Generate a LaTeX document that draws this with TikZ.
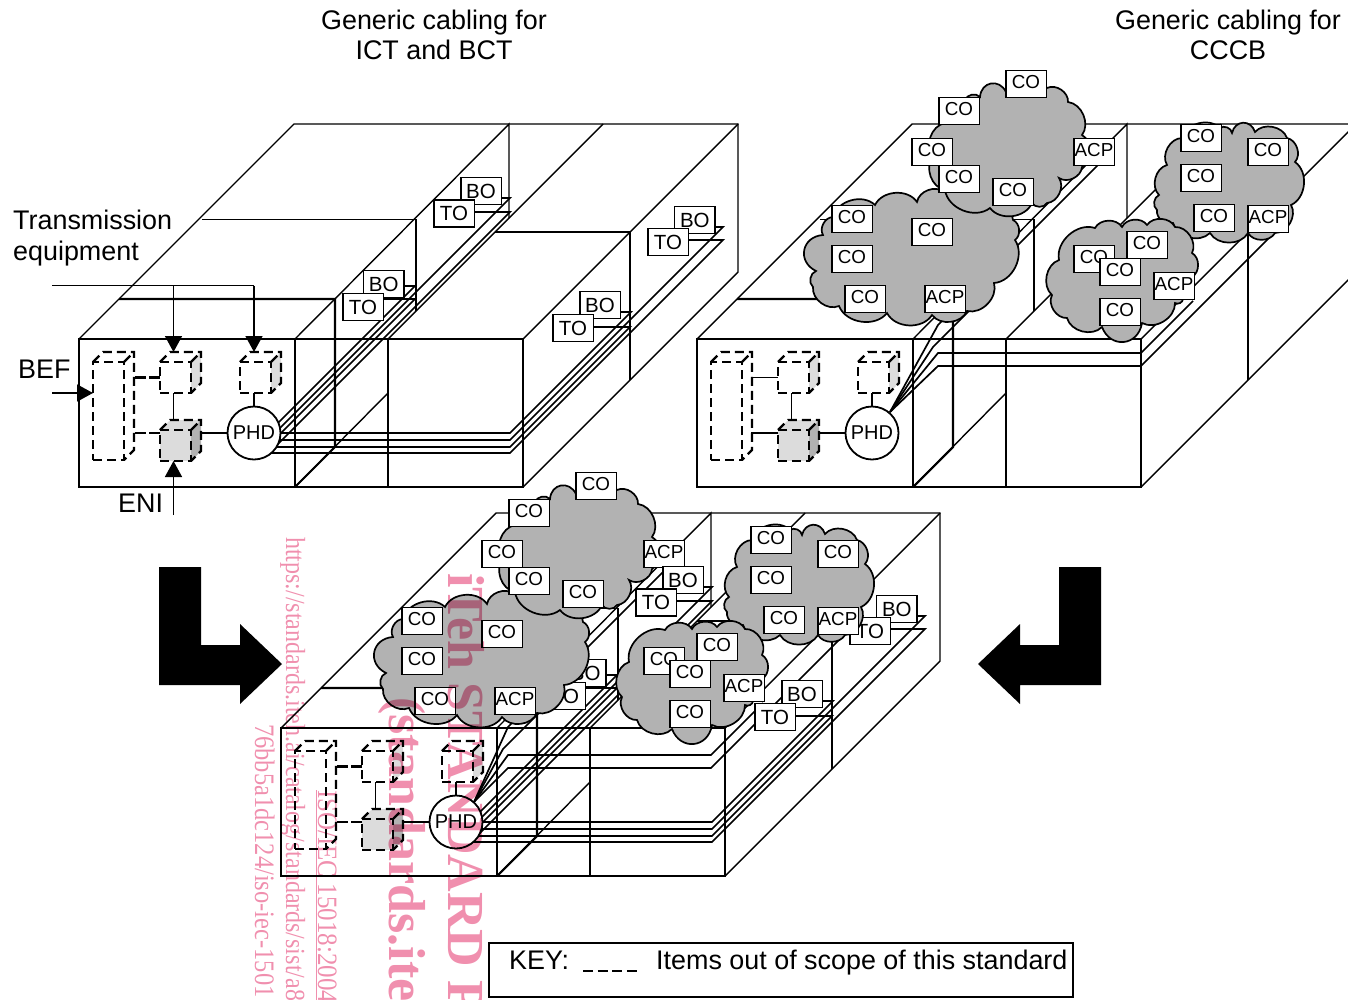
\documentclass[tikz,border=0pt]{standalone}
\usepackage{fontspec}
\usepackage{xcolor}
\usepackage{tikz}
\usetikzlibrary{arrows.meta,positioning,calc}
\setmainfont{Liberation Sans}
\newfontfamily\wmfont{Liberation Serif}
\definecolor{cloudgray}{HTML}{B2B2B2}
\definecolor{cubegray}{HTML}{DCDCDC}
\definecolor{wmpink}{HTML}{F08FAE}

\newcommand{\buildingwalls}{
    \draw[wall] (79,339) -- (294,124) -- (738,124) -- (738,272) -- (523,487);
    \draw[wall] (295,339) -- (509,124) -- (509,218);
    \draw[wall] (388,339) -- (603,124);
    \draw[wall] (523,339) -- (738,124);
    \draw[wall] (295,339) rectangle (523,487);
    \draw[wall] (388,339) -- (388,487);
    \draw[wall] (295,487) -- (388,393);
    \draw[wall] (202,219.4) -- (416,219.4) -- (416,311);
    \draw[wall] (495,232) -- (630,232) -- (630,380);
    \draw[wallthick] (119,299) -- (335,299) -- (335,447) -- (295,487);
    \draw[wallthick] (79,339) rectangle (295,487);
}
\newcommand{\ictcables}{
    \draw[cable] (254,433) -- (510,433) -- (631,312) -- (610,312);
    \draw[cable] (254,440) -- (510,440) -- (723,227) -- (700,227);
    \draw[cable] (254,447) -- (510,447) -- (630,327) -- (585,327);
    \draw[cable] (254,453) -- (510,453) -- (723,240) -- (680,240);
    \draw[cable] (262,439) -- (415,286) -- (400,286);
    \draw[cable] (268,446) -- (415,299) -- (375,299);
    \draw[cable] (265,443) -- (510,198) -- (495,198);
    \draw[cable] (270,452) -- (510,212) -- (465,212);
}
\newcommand{\cccbcables}[2]{
    \coordinate (fan) at (#1,#2);
    \draw[cable] (fan) -- (938,353) -- (1141,353) -- (1193,301);
    \draw[cable] (fan) -- (938,366) -- (1141,366) -- (1275,232);
    \draw[cable] (fan) -- (938,325) -- (1100,163);
    \draw[cable] (fan) -- (933,347) -- (975,305);
}
\newcommand{\pairslow}[1]{
    \node[pairbox] (#1bo1) at (383.7,284) {BO};
    \node[pairbox] (#1to1) at (363,307) {TO};
}
\newcommand{\pairsrest}[1]{
    \node[pairbox] (#1bo2) at (481,191) {BO};
    \node[pairbox] (#1to2) at (454,213.5) {TO};
    \node[pairbox] (#1bo3) at (694.8,220) {BO};
    \node[pairbox] (#1to3) at (668,242) {TO};
    \node[pairbox] (#1bo4) at (600,305) {BO};
    \node[pairbox] (#1to4) at (573,328) {TO};
}
\newcommand{\devcube}[7]{
    \fill[#6] (#2,#3) -- ++(10,-10) -- ++(#4,0) -- ++(-10,10) -- cycle;
    \fill[#7] (#2+#4,#3) -- ++(10,-10) -- ++(0,#5) -- ++(-10,10) -- cycle;
    \draw[dev] (#2,#3) -- ++(10,-10) -- ++(#4,0) -- ++(0,#5) -- ++(-10,10);
    \draw[dev] (#2+#4,#3) -- ++(10,-10);
    \node[dev,minimum width=#4,minimum height=#5,fill=#6] (#1) at (#2+#4/2,#3+#5/2) {};
}
\newcommand{\devices}[2]{
    \devcube{#1tall}{93}{362}{31}{98}{white}{white}
    \devcube{#1up}{160}{362}{31}{31}{white}{cubegray}
    \devcube{#1tx}{240}{362}{31}{31}{white}{cubegray}
    \devcube{#1gw}{160}{430}{31}{31}{cubegray}{cloudgray}
    \node[phd] (#1phd) at (254,433) {PHD};
    \draw[link,#2] (#1up.west) -- ++(-27,0);
    \draw[link,#2] (#1gw.west |- #1phd.west) -- ++(-27,0);
    \draw[link] ([xshift=-2pt]#1up.south) -- ([xshift=-2pt,yshift=10pt]#1gw.north);
    \draw[link] ([xshift=10pt]#1gw.east |- #1phd.west) -- (#1phd.west);
    \draw[link] (#1phd.north) -- ([xshift=-1.5pt]#1tx.south);
}
\newcommand{\cloudsback}[1]{
    \draw[cloud] (823,235) to[bmp] (833,217) to[bmp] (875,205) to[bmp] (917,202) to[bmp] (944,192) to[bmp] (1013,220) to[bmp] (1015,240) to[bmp] (994,283) to[bmp] (967,311) to[bmp] (932,315) to[bmp] (887,313) to[bmp] (839,306) to[bmp] (813,287) to[bmp] (816,271) to[bmpb] (823,235) -- cycle;
    \node[outlet] (#1c1) at (852,219) {CO};
    \node[outlet] (#1c2) at (932,232) {CO};
    \node[outlet] (#1c3) at (852,259) {CO};
    \node[outlet] (#1c4) at (865,299) {CO};
    \node[outlet] (#1a1) at (945,299) {ACP};
    \draw[cloud] (945,123) to[bmp] (965,100) to[bmp] (980,97) to[bmpb] (1006,92) to[bmp] (1047,88) to[bmp] (1068,102) to[bmp] (1082,135) to[bmp] (1082,167) to[bmp] (1059,178) to[bmp] (1047,203) to[bmp] (1032,203) to[bmp] (990,208) to[bmp] (945,190) to[bmp] (933,157) to[bmp] (945,123) -- cycle;
    \node[outlet] (#1c5) at (1026,84) {CO};
    \node[outlet] (#1c6) at (959,111) {CO};
    \node[outlet] (#1c7) at (932,152) {CO};
    \node[outlet] (#1c8) at (959,179) {CO};
    \node[outlet] (#1c9) at (1013,192) {CO};
    \node[outlet] (#1a2) at (1094,152) {ACP};
}
\newcommand{\cloudsfront}[1]{
    \draw[cloud] (1167,165) to[bmp] (1182,138) to[bmp] (1220,128) to[bmp] (1232,133) to[bmpb] (1255,132) to[bmp] (1287,138) to[bmp] (1295,162) to[bmp] (1291,205) to[bmp] (1275,233) to[bmp] (1248,233) to[bmp] (1210,233) to[bmp] (1173,223) to[bmp] (1157,210) to[bmp] (1159,195) to[bmp] (1167,165) -- cycle;
    \node[outlet] (#1c10) at (1201,138) {CO};
    \node[outlet] (#1c11) at (1268,152) {CO};
    \node[outlet] (#1c12) at (1201,178) {CO};
    \node[outlet] (#1c13) at (1214,218) {CO};
    \node[outlet] (#1a3) at (1268,219) {ACP};
    \draw[cloud] (1059,260) to[bmp] (1095,228) to[bmp] (1122,227) to[bmp] (1147,225) to[bmp] (1175,227) to[bmp] (1192,253) to[bmp] (1192,277) to[bmp] (1183,299) to[bmp] (1175,303) to[bmp] (1142,323) to[bmpb] (1102,327) to[bmp] (1067,318) to[bmp] (1052,295) to[bmp] (1059,260) -- cycle;
    \node[outlet] (#1c14) at (1094,259) {CO};
    \node[outlet] (#1c15) at (1147,245) {CO};
    \node[outlet] (#1c16) at (1120,272) {CO};
    \node[outlet] (#1a4) at (1174,286) {ACP};
    \node[outlet] (#1c17) at (1120,312) {CO};
}

\begin{document}
\begin{tikzpicture}[
    x=1pt,y=-1pt,
    font=\fontsize{18.8}{20}\selectfont,
    wall/.style={line width=1.4pt},
    wallthick/.style={line width=2.1pt},
    cable/.style={line width=1.7pt},
    link/.style={line width=1.8pt},
    keydash/.style={line width=2.2pt,dash pattern=on 11pt off 3.5pt},
    dev/.style={draw,line width=2.3pt,dash pattern=on 9pt off 5pt,inner sep=0pt,outer sep=0pt},
    outlet/.style={draw,fill=white,line width=1.5pt,minimum width=40.5pt,minimum height=27pt,inner sep=0pt,text height=13pt,text depth=3.5pt},
    pairbox/.style={outlet,font=\fontsize{20.5}{21}\selectfont,text height=14.5pt,text depth=0pt},
    phd/.style={draw,circle,fill=white,line width=1.8pt,minimum size=53pt,inner sep=0pt,font=\fontsize{20}{20}\selectfont},
    cloud/.style={draw,fill=cloudgray,line width=1.7pt},
    bmp/.style={bend left=60,looseness=1},
    bmpb/.style={bend left=75,looseness=1.5},
    bigtext/.style={font=\fontsize{26.9}{30}\selectfont,inner sep=0pt},
    bigarrow/.style={fill=black},
    wm/.style={wmpink,rotate=-90,anchor=base west,inner sep=0pt,outer sep=0pt},
    tip/.style={-{Triangle[length=16pt,width=17pt]},line width=1.5pt},
    >=Latex
  ]
    \clip (0,0) rectangle (1348,999);

    \node[bigtext,align=center] (ttlict) at (434,35) {Generic cabling for\\ICT and BCT};
    \node[bigtext,align=center] (ttlcccb) at (1228,35) {Generic cabling for\\CCCB};
    \node[bigtext,align=left,anchor=west] (txlab) at (13,238.5) {Transmission\\[1pt]equipment};
    \node[bigtext,anchor=west] (beflab) at (18,369) {BEF};
    \node[bigtext,anchor=west] (enilab) at (118,503) {ENI};

    \buildingwalls
    \ictcables
    \pairslow{l}
    \pairsrest{l}
    \devices{l}{keydash}

    \coordinate (txin) at (52,285.5);
    \coordinate (txa) at (173.5,352);
    \coordinate (txb) at (254,352);
    \coordinate (befin) at (52,393);
    \coordinate (enin) at (173.5,515);
    \draw[link] (txin) -- (txin -| txb);
    \draw[tip] (txin -| txa) -- (txa);
    \draw[tip] (txin -| txb) -- (txb);
    \draw[tip] (befin) -- (befin -| ltall.west);
    \draw[tip] (enin) -- (enin |- lgw.south);

    \begin{scope}[shift={(618,0)}]
      \buildingwalls
    \end{scope}
    \cccbcables{890}{412}
    \cloudsback{r}
    \cloudsfront{r}
    \begin{scope}[shift={(618,0)}]
      \devices{r}{solid}
    \end{scope}

    \fill[bigarrow] (159,567) -- (201,567) -- (201,645) -- (240,645) -- (240,624) -- (282,664) -- (240,704) -- (240,685) -- (159,685) -- cycle;
    \fill[bigarrow] (1101,567) -- (1059,567) -- (1059,645) -- (1020,645) -- (1020,624) -- (978,664) -- (1020,704) -- (1020,685) -- (1101,685) -- cycle;

    \begin{scope}[shift={(202,389)}]
      \buildingwalls
      \ictcables
      \pairslow{b}
    \end{scope}
    \begin{scope}[shift={(-430,402)}]
      \cccbcables{904}{400}
      \cloudsback{b}
    \end{scope}
    \begin{scope}[shift={(202,389)}]
      \pairsrest{b}
    \end{scope}
    \begin{scope}[shift={(-430,402)}]
      \cloudsfront{b}
    \end{scope}
    \begin{scope}[shift={(202,389)}]
      \devices{b}{keydash}
    \end{scope}

    \node[draw,line width=1.8pt,minimum width=584pt,minimum height=54pt,inner sep=0pt] (keybox) at (781,970) {};
    \node[bigtext,anchor=base west] (keylab) at (509,969) {KEY:};
    \node[bigtext,anchor=base west] (keytxt) at (656,969) {Items out of scope of this standard};
    \coordinate (keya) at (583,971);
    \coordinate (keyb) at (637,971);
    \draw[line width=2pt,dash pattern=on 10pt off 4.6pt] (keya) -- (keyb);

    \begin{scope}[blend mode=multiply]
      \node[wm,font=\wmfont\bfseries\fontsize{52}{52}\selectfont] (wmiteh) at (448,573) {iTeh STANDARD P};
      \node[wm,font=\wmfont\bfseries\fontsize{52}{52}\selectfont] (wmsite) at (389,697) {(standards.ite};
      \node[wm,font=\wmfont\fontsize{24}{24}\selectfont] (wmurl) at (286,537) {\scalebox{1}[1.15]{https://standards.iteh.ai/catalog/standards/sist/a8}};
      \node[wm,font=\wmfont\fontsize{25}{25}\selectfont] (wmiso) at (318,790) {\scalebox{1}[1.12]{\underline{ISO/IEC 15018:2004}}};
      \node[wm,font=\wmfont\fontsize{24.5}{25}\selectfont] (wmhash) at (255,724) {\scalebox{1}[1.15]{76bb5a1dc124/iso-iec-1501}};
    \end{scope}
  \end{tikzpicture}
\end{document}
